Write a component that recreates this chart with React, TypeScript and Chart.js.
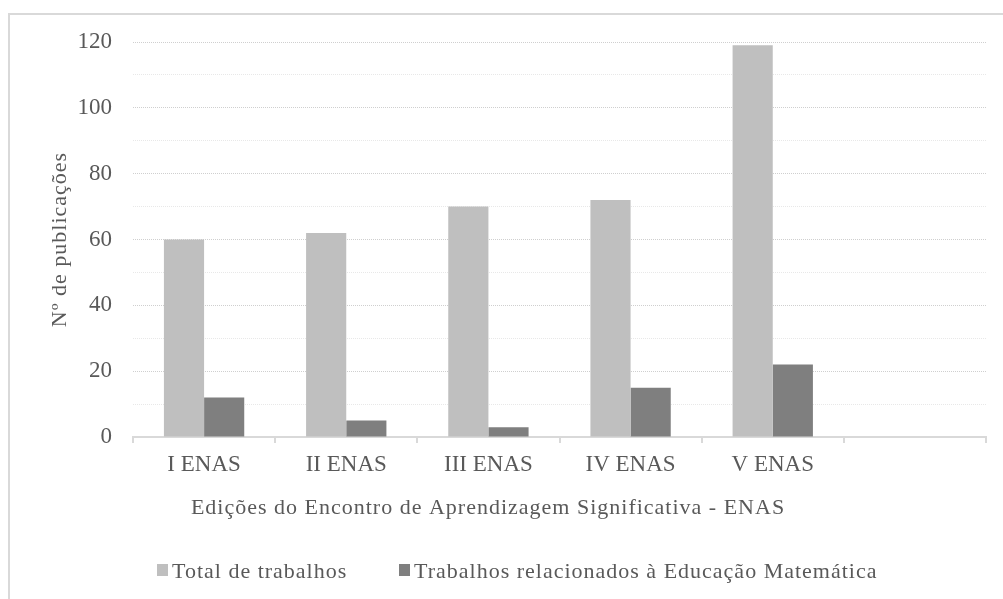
import React, { useEffect, useRef } from "react";
import { Chart, registerables } from "chart.js";

Chart.register(...registerables);

const categories = ["I ENAS", "II ENAS", "III ENAS", "IV ENAS", "V ENAS", ""];
const totalWorks = [60, 62, 70, 72, 119, null];
const mathWorks = [12, 5, 3, 15, 22, null];
const seriesNames = ["Total de trabalhos", "Trabalhos relacionados à Educação Matemática"];
const seriesColors = ["#bfbfbf", "#7f7f7f"];
const xTitle = "Edições do Encontro de Aprendizagem Significativa - ENAS";
const yTitle = "Nº de publicações";
const yMin = 0;
const yMax = 120;
const yStep = 10;
const yLabelEvery = 20;

const FONT = "'Liberation Serif', 'Times New Roman', serif";
const TEXT = "#595959";

const extrasPlugin = {
  id: "extras",
  afterDraw(chart: any) {
    const ctx = chart.ctx;
    const area = chart.chartArea;
    ctx.save();
    ctx.fillStyle = TEXT;
    (ctx as any).letterSpacing = "1px";
    ctx.font = `22px ${FONT}`;
    ctx.textAlign = "center";
    ctx.textBaseline = "middle";
    ctx.fillText(xTitle, 488, 508);

    // y title
    ctx.save();
    ctx.translate(60, (area.top + area.bottom) / 2);
    ctx.rotate(-Math.PI / 2);
    ctx.fillText(yTitle, 0, 0);
    ctx.restore();

    // legend
    const items = [
      { x: 157, label: seriesNames[0], color: seriesColors[0] },
      { x: 399, label: seriesNames[1], color: seriesColors[1] },
    ];
    ctx.font = `22px ${FONT}`;
    ctx.textAlign = "left";
    for (const it of items) {
      ctx.fillStyle = it.color;
      ctx.fillRect(it.x, 564, 11, 12);
      ctx.fillStyle = TEXT;
      ctx.fillText(it.label, it.x + 15, 572);
    }
    ctx.restore();
  },
};

export default function App() {
  const ref = useRef<HTMLCanvasElement>(null);
  useEffect(() => {
    if (!ref.current) return;
    const chart = new Chart(ref.current, {
      type: "bar",
      data: {
        labels: categories,
        datasets: [
          {
            label: seriesNames[0],
            data: totalWorks,
            backgroundColor: seriesColors[0],
            borderWidth: 0,
            categoryPercentage: 0.565,
            barPercentage: 1,
          },
          {
            label: seriesNames[1],
            data: mathWorks,
            backgroundColor: seriesColors[1],
            borderWidth: 0,
            categoryPercentage: 0.565,
            barPercentage: 1,
          },
        ],
      } as any,
      options: {
        animation: false,
        responsive: false,
        devicePixelRatio: 1,
        layout: { padding: { top: 42, right: 17, bottom: 0, left: 0 } },
        plugins: {
          legend: { display: false },
          tooltip: { enabled: false },
        },
        scales: {
          x: {
            afterFit(scale: any) {
              scale.height = 599 - 437;
            },
            grid: {
              display: true,
              drawOnChartArea: false,
              drawTicks: true,
              tickLength: 6,
              color: "#d9d9d9",
              lineWidth: 2,
              offset: true,
            },
            border: { display: true, color: "#d9d9d9", width: 2 },
            ticks: {
              color: TEXT,
              font: { family: FONT, size: 23 },
              padding: 8,
              maxRotation: 0,
            },
          },
          y: {
            min: yMin,
            max: yMax,
            afterFit(scale: any) {
              scale.width = 133;
            },
            grid: {
              drawTicks: false,
              color: (c: any) =>
                c.tick && c.tick.value % yLabelEvery === 0 ? "#cfcfcf" : "#e8e8e8",
              lineWidth: 1,
            },
            border: { display: false, dash: [1, 1] },
            ticks: {
              stepSize: yStep,
              color: TEXT,
              font: { family: FONT, size: 23 },
              padding: 21,
              callback: (v: any) => (Number(v) % yLabelEvery === 0 ? String(v) : ""),
            },
            title: { display: false },
          },
        },
      } as any,
      plugins: [extrasPlugin],
    });
    return () => chart.destroy();
  }, []);

  return (
    <div style={{ position: "fixed", left: 0, top: 0, width: 1003, height: 599, background: "#fff" }}>
      <div
        style={{
          position: "absolute",
          left: 8,
          top: 13,
          width: 1010,
          height: 610,
          borderLeft: "2px solid #d9d9d9",
          borderTop: "2px solid #d9d9d9",
          pointerEvents: "none",
        }}
      />
      <canvas ref={ref} width={1003} height={599} style={{ position: "absolute", left: 0, top: 0 }} />
    </div>
  );
}
